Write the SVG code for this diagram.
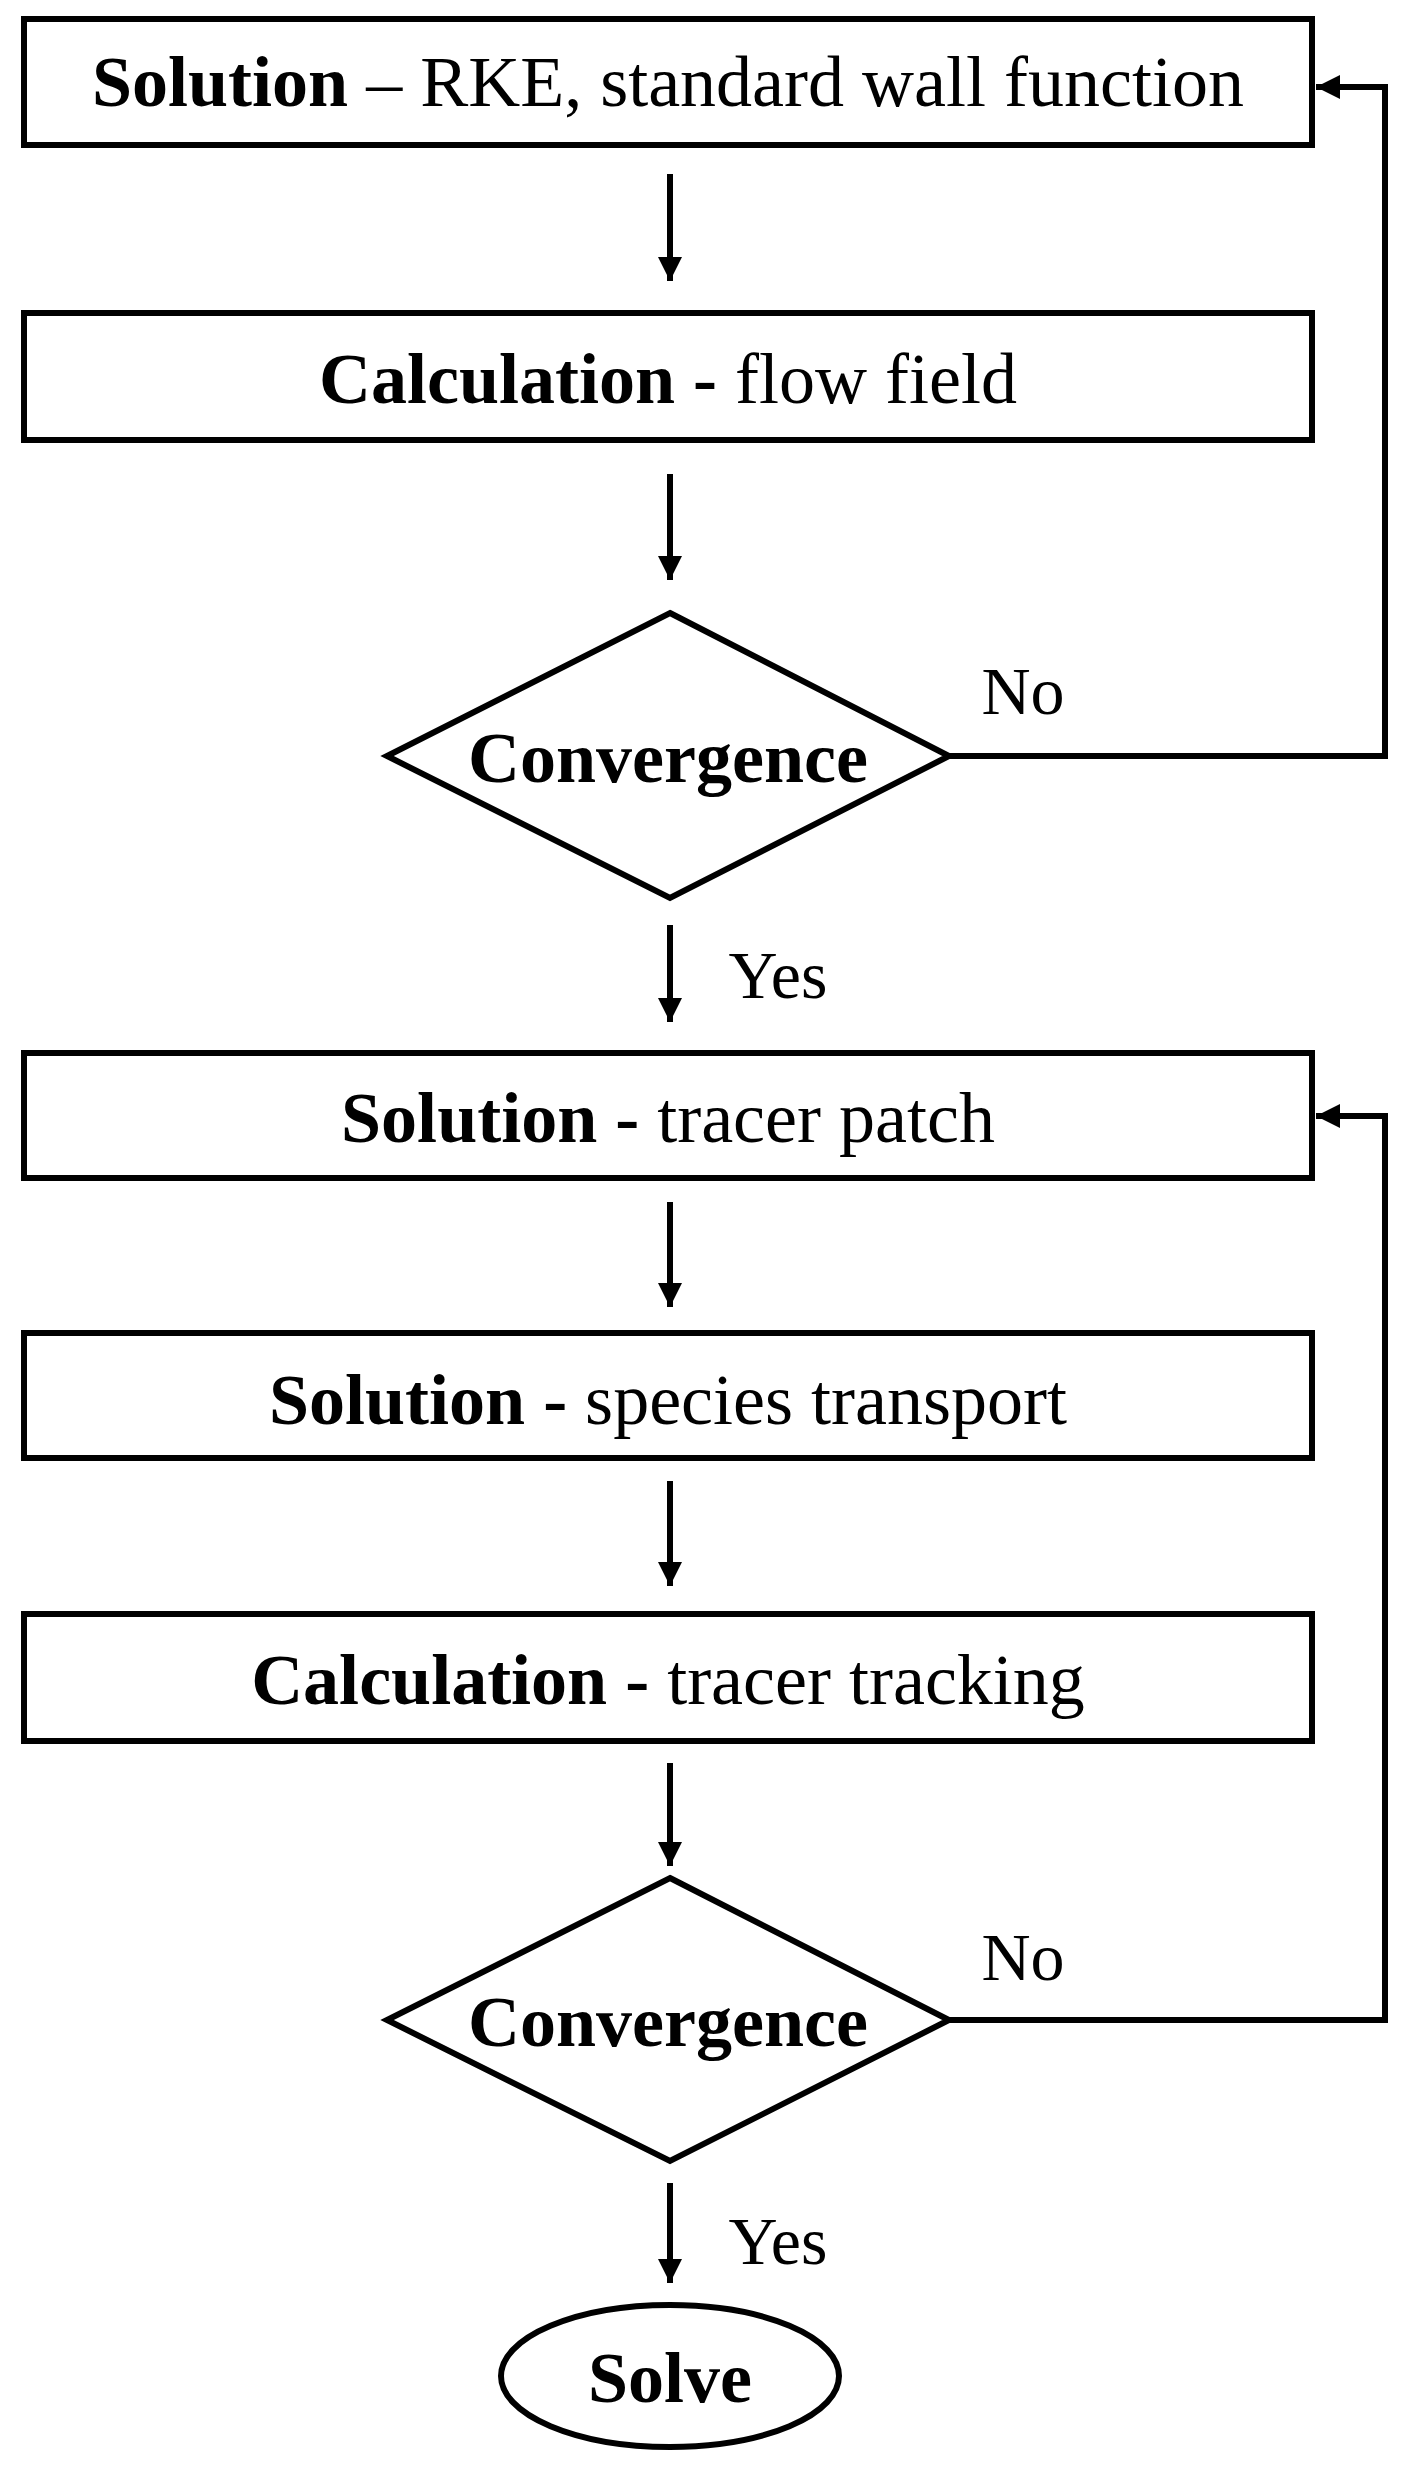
<svg xmlns="http://www.w3.org/2000/svg" width="1412" height="2478" viewBox="0 0 1412 2478">
<style>
.s{fill:#fff;stroke:#000;stroke-width:6}
.t{font-family:"Liberation Serif","Times New Roman",serif;font-size:72px;fill:#000;text-anchor:middle}
.b{font-weight:bold}
.l{font-size:68px}
.c{fill:none;stroke:#000;stroke-width:6}
</style>
<defs>
<marker id="a" viewBox="0 0 10 10" refX="10" refY="5" markerWidth="4" markerHeight="4.5" orient="auto" markerUnits="strokeWidth"><path d="M0,0 L10,5 L0,10 z" fill="#000"/></marker>
<marker id="a2" viewBox="0 0 10 10" refX="10" refY="5" markerWidth="4" markerHeight="4" orient="auto" markerUnits="strokeWidth"><path d="M0,0 L10,5 L0,10 z" fill="#000"/></marker>
</defs>
<rect width="1412" height="2478" fill="#fff"/>
<g id="n1"><rect class="s" x="24" y="19" width="1288" height="126"/><text class="t" x="668" y="106"><tspan class="b">Solution</tspan> – RKE, standard wall function</text></g>
<g id="n2"><rect class="s" x="24" y="313" width="1288" height="127"/><text class="t" x="668" y="403"><tspan class="b">Calculation -</tspan> flow field</text></g>
<g id="n3"><polygon class="s" points="670,613 949,756 670,898 387,756"/><text class="t b" x="668" y="782">Convergence</text></g>
<g id="n4"><rect class="s" x="24" y="1053" width="1288" height="125"/><text class="t" x="668" y="1142"><tspan class="b">Solution -</tspan> tracer patch</text></g>
<g id="n5"><rect class="s" x="24" y="1333" width="1288" height="125"/><text class="t" x="668" y="1424"><tspan class="b">Solution -</tspan> species transport</text></g>
<g id="n6"><rect class="s" x="24" y="1614" width="1288" height="127"/><text class="t" x="668" y="1704"><tspan class="b">Calculation -</tspan> tracer tracking</text></g>
<g id="n7"><polygon class="s" points="670,1878 949,2020 670,2161 387,2020"/><text class="t b" x="668" y="2046">Convergence</text></g>
<g id="n8"><ellipse class="s" cx="670" cy="2376" rx="169" ry="71"/><text class="t b" x="670" y="2402">Solve</text></g>
<g id="edges">
<line class="c" x1="670" y1="174" x2="670" y2="281" marker-end="url(#a)"/>
<line class="c" x1="670" y1="474" x2="670" y2="580" marker-end="url(#a)"/>
<line class="c" x1="670" y1="925" x2="670" y2="1022" marker-end="url(#a)"/>
<line class="c" x1="670" y1="1202" x2="670" y2="1307" marker-end="url(#a)"/>
<line class="c" x1="670" y1="1481" x2="670" y2="1586" marker-end="url(#a)"/>
<line class="c" x1="670" y1="1763" x2="670" y2="1866" marker-end="url(#a)"/>
<line class="c" x1="670" y1="2183" x2="670" y2="2283" marker-end="url(#a)"/>
<polyline class="c" points="949,756 1385,756 1385,87 1316,87" marker-end="url(#a2)"/>
<polyline class="c" points="949,2020 1385,2020 1385,1116 1316,1116" marker-end="url(#a2)"/>
<text class="t l" x="1023" y="714">No</text>
<text class="t l" x="1023" y="1980">No</text>
<text class="t l" x="778" y="998">Yes</text>
<text class="t l" x="778" y="2264">Yes</text>
</g>
</svg>
